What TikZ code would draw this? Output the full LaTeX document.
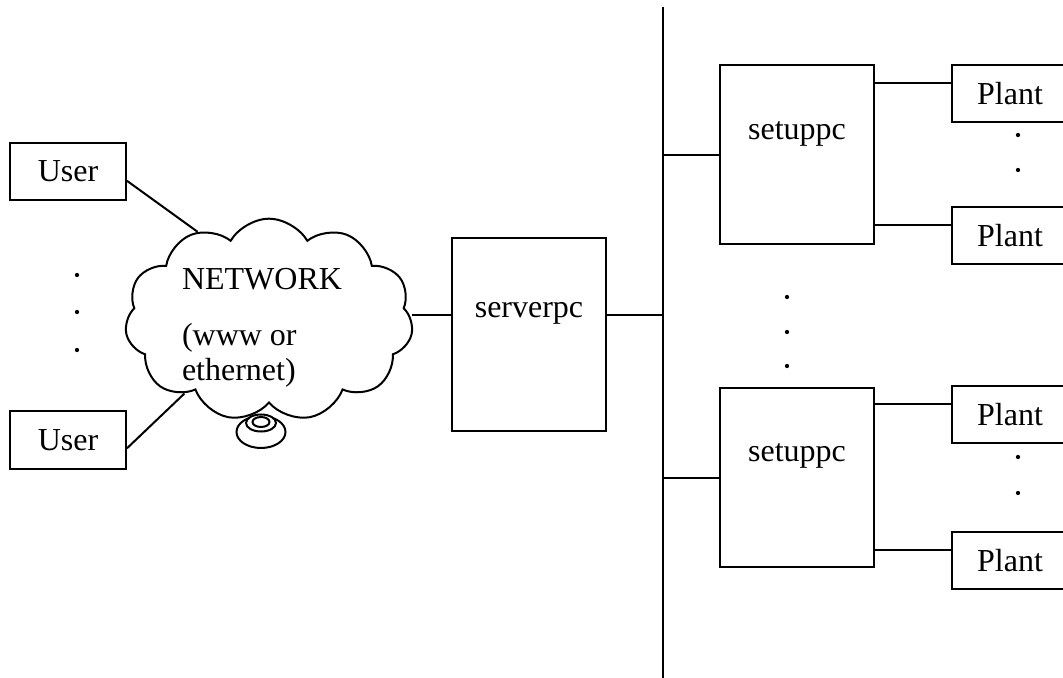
\documentclass[tikz,border=0pt]{standalone}
\usepackage{fontspec}
\setmainfont{Liberation Serif}
\usepackage{tikz}
\usetikzlibrary{shapes, positioning, calc}

\begin{document}
\begin{tikzpicture}[x=0.375pt, y=-0.375pt, line width=0.75pt,
		font=\fontsize{12}{13.1}\selectfont,
		blocco/.style={draw, minimum width=43.5pt, minimum height=21.4pt, inner sep=0pt},
		pc/.style={draw, minimum width=57.75pt, inner sep=0pt}]
		\useasboundingbox (0,0) rectangle (1063,678);

		\node[blocco] (User 1) at (68,171.5) {User};
		\node[blocco] (User 2) at (68,440) {User};

		\draw[fill=white] (261,432) ellipse (24.5 and 16);
		\node[cloud, draw, fill=white, cloud puffs=11, cloud puff arc=120, cloud ignores aspect,
			minimum width=108pt, minimum height=76pt, inner sep=0pt] (NETWORK) at (269,320) {};
		\node[align=left, anchor=north west, inner sep=0pt] (Network text) at (181,267) {NETWORK\\[8pt]
			(www or\\
			ethernet)};
		\draw[fill=white] (261,423) ellipse (15 and 8.5);
		\draw (261,422) ellipse (8.5 and 5);

		\node[pc, minimum height=72.4pt] (Serverpc) at (529,334.5) {};
		\node (Serverpc text) at (529,313) {serverpc};

		\coordinate (Bus top) at (663,7);
		\coordinate (Bus bottom) at (663,678);

		\node[pc, minimum height=67.1pt] (Setuppc 1) at (797,154.5) {};
		\node (Setuppc 1 text) at (797,134) {setuppc};
		\node[pc, minimum height=67.1pt] (Setuppc 2) at (797,477.5) {};
		\node (Setuppc 2 text) at (797,456) {setuppc};

		\node[blocco] (Plant 1) at (1010,93.5) {Plant};
		\node[blocco] (Plant 2) at (1010,235.5) {Plant};
		\node[blocco] (Plant 3) at (1010,414.5) {Plant};
		\node[blocco] (Plant 4) at (1010,560.5) {Plant};

		% puntini
		\foreach \y in {275,312,350} \fill (77,\y) circle (0.8pt);
		\foreach \y in {297,332,366} \fill (787,\y) circle (0.8pt);
		\foreach \y in {135,170,457,493} \fill (1018,\y) circle (0.8pt);

		\draw (Bus top) to (Bus bottom);
		\draw (User 1.351) to (NETWORK.129);
		\draw (User 2.352) to (NETWORK.221);
		\draw (Serverpc.166) to (Serverpc.166 -| NETWORK.east);
		\draw (Serverpc.14) to (Serverpc.14 -| Bus top);
		\draw (Setuppc 1.west) to (Setuppc 1.west -| Bus top);
		\draw (Setuppc 2.west) to (Setuppc 2.west -| Bus top);
		\draw (Plant 1.170) to (Plant 1.170 -| Setuppc 1.east);
		\draw (Plant 2.170) to (Plant 2.170 -| Setuppc 1.east);
		\draw (Plant 3.170) to (Plant 3.170 -| Setuppc 2.east);
		\draw (Plant 4.170) to (Plant 4.170 -| Setuppc 2.east);
	\end{tikzpicture}
\end{document}
